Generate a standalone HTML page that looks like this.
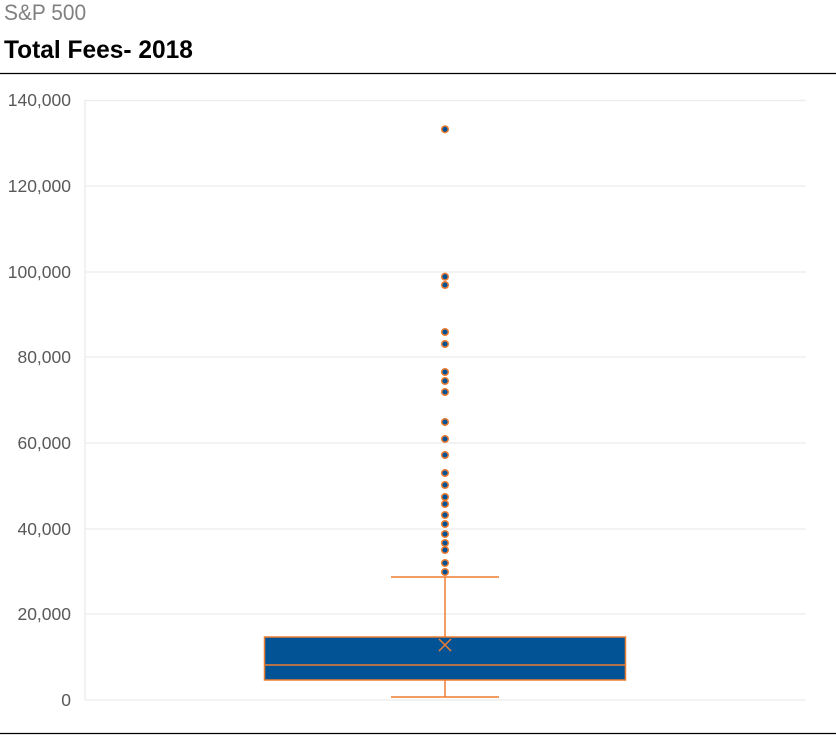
<!DOCTYPE html>
<html><head><style>
body{margin:0;background:#fff;width:836px;height:739px;overflow:hidden;position:relative;font-family:"Liberation Sans",sans-serif}
.t1{position:absolute;left:4px;top:0px;font-size:22px;color:#808080;transform:scaleX(0.95);transform-origin:left}
.t2{position:absolute;left:4px;top:36px;font-size:25px;font-weight:bold;color:#000;transform:scaleX(0.98);transform-origin:left}
</style></head><body>
<div class="t1">S&amp;P 500</div>
<div class="t2">Total Fees- 2018</div>
<svg width="836" height="739" style="position:absolute;left:0;top:0">
<line x1="0" y1="73.5" x2="836" y2="73.5" stroke="#000" stroke-width="1.2"/>
<line x1="0" y1="733.5" x2="836" y2="733.5" stroke="#000" stroke-width="1.2"/>
<g stroke="#ececec" stroke-width="1.3">
<line x1="85" x2="806" y1="100.5" y2="100.5"/><line x1="85" x2="806" y1="186" y2="186"/>
<line x1="85" x2="806" y1="272" y2="272"/><line x1="85" x2="806" y1="357" y2="357"/>
<line x1="85" x2="806" y1="443" y2="443"/><line x1="85" x2="806" y1="529" y2="529"/>
<line x1="85" x2="806" y1="614" y2="614"/><line x1="85" x2="806" y1="700" y2="700"/>
<line x1="85" x2="85" y1="100" y2="700"/>
</g>
<g font-family="Liberation Sans" font-size="17.5" fill="#595959" text-anchor="end">
<text x="71" y="106">140,000</text><text x="71" y="192">120,000</text>
<text x="71" y="278">100,000</text><text x="71" y="363">80,000</text>
<text x="71" y="449">60,000</text><text x="71" y="535">40,000</text>
<text x="71" y="620">20,000</text><text x="71" y="706">0</text>
</g>
<g stroke="#ed7d31" stroke-width="1.5" fill="none">
<line x1="391" x2="499" y1="577" y2="577"/><line x1="445" x2="445" y1="577" y2="637"/>
<line x1="391" x2="499" y1="697" y2="697"/><line x1="445" x2="445" y1="680" y2="697"/>
<rect x="264.5" y="637" width="361" height="43" fill="#025396"/>
<line x1="264" x2="626" y1="665" y2="665"/>
<path d="M439 639L451 651M451 639L439 651"/>
</g>
<g fill="#025396" stroke="#ed7d31" stroke-width="1.5">
<circle cx="445" cy="129.3" r="3.3"/><circle cx="445" cy="276.7" r="3.3"/><circle cx="445" cy="285" r="3.3"/>
<circle cx="445" cy="332" r="3.3"/><circle cx="445" cy="344" r="3.3"/><circle cx="445" cy="372" r="3.3"/>
<circle cx="445" cy="381" r="3.3"/><circle cx="445" cy="392" r="3.3"/><circle cx="445" cy="422" r="3.3"/>
<circle cx="445" cy="439" r="3.3"/><circle cx="445" cy="455" r="3.3"/><circle cx="445" cy="473" r="3.3"/>
<circle cx="445" cy="485" r="3.3"/><circle cx="445" cy="497" r="3.3"/><circle cx="445" cy="504" r="3.3"/>
<circle cx="445" cy="515" r="3.3"/><circle cx="445" cy="524" r="3.3"/><circle cx="445" cy="534" r="3.3"/>
<circle cx="445" cy="543" r="3.3"/><circle cx="445" cy="550" r="3.3"/><circle cx="445" cy="563" r="3.3"/>
<circle cx="445" cy="572" r="3.3"/>
</g>
</svg>
</body></html>
